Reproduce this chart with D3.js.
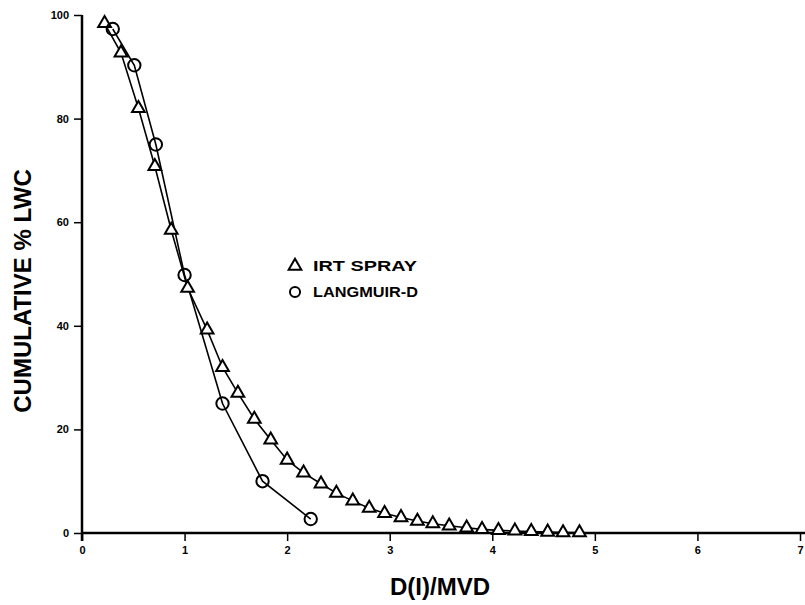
<!DOCTYPE html>
<html>
<head>
<meta charset="utf-8">
<script src="https://cdn.jsdelivr.net/npm/d3@7"></script>
<style>
  html, body { margin: 0; padding: 0; background: #fff; }
  svg { display: block; }
  text { font-family: "Liberation Sans", Arial, Helvetica, sans-serif; font-weight: bold; fill: #000; }
</style>
</head>
<body>
<svg id="chart" width="805" height="605"></svg>
<script>
// ---- data ----
const irtX = [0.22, 0.38, 0.55, 0.71, 0.87, 1.03, 1.22, 1.37, 1.52, 1.68, 1.84, 2.00, 2.16, 2.33, 2.48, 2.64, 2.80, 2.95, 3.11, 3.27, 3.42, 3.58, 3.75, 3.90, 4.06, 4.22, 4.38, 4.54, 4.69, 4.85];
const irtY = [98.4, 92.7, 82.0, 70.8, 58.5, 47.3, 39.2, 32.0, 27.0, 22.0, 18.0, 14.1, 11.6, 9.5, 7.7, 6.2, 4.8, 3.8, 3.0, 2.3, 1.8, 1.4, 1.0, 0.7, 0.5, 0.4, 0.3, 0.2, 0.1, 0.1];
const langX = [0.30, 0.51, 0.72, 1.00, 1.37, 1.76, 2.23];
const langY = [97.3, 90.3, 75.0, 49.8, 25.0, 10.0, 2.7];
const xTicks = [0, 1, 2, 3, 4, 5, 6, 7];
const yTicks = [0, 20, 40, 60, 80, 100];
const seriesNames = ["IRT SPRAY", "LANGMUIR-D"];
const xTitle = "D(I)/MVD";
const yTitle = "CUMULATIVE % LWC";

// ---- layout ----
const svg = d3.select("#chart");
const x = d3.scaleLinear().domain([0, 7]).range([82, 800]);
const y = d3.scaleLinear().domain([0, 100]).range([533, 15]);

// axes
const xAxis = d3.axisBottom(x).tickValues(xTicks).tickSize(8).tickPadding(5).tickFormat(d3.format("d"));
const gx = svg.append("g").attr("transform", `translate(0,${y(0)})`).call(xAxis);
gx.select(".domain").attr("d", `M${x(0)},0H805`).attr("stroke", "#000").attr("stroke-width", 2.5);
gx.selectAll(".tick line").attr("stroke", "#000").attr("stroke-width", 1.5);
gx.selectAll(".tick text").attr("font-size", 11).attr("font-family", "Liberation Sans, Arial, sans-serif").attr("font-weight", "bold");

const yAxis = d3.axisLeft(y).tickValues(yTicks).tickSize(8).tickPadding(5).tickFormat(d3.format("d"));
const gy = svg.append("g").attr("transform", `translate(${x(0)},0)`).call(yAxis);
gy.select(".domain").attr("d", `M0,${y(0) + 8}V${y(100)}`).attr("stroke", "#000").attr("stroke-width", 2.5);
gy.selectAll(".tick line").attr("stroke", "#000").attr("stroke-width", 1.5);
gy.selectAll(".tick text").attr("font-size", 11).attr("font-family", "Liberation Sans, Arial, sans-serif").attr("font-weight", "bold");

// titles
svg.append("text")
  .attr("transform", `translate(31,${291}) rotate(-90)`)
  .attr("text-anchor", "middle")
  .attr("font-size", 24)
  .text(yTitle);
svg.append("text")
  .attr("x", 440).attr("y", 595)
  .attr("text-anchor", "middle")
  .attr("font-size", 24)
  .text(xTitle);

// lines
const irt = irtX.map((v, i) => [v, irtY[i]]);
const lang = langX.map((v, i) => [v, langY[i]]);
const line = d3.line().x(d => x(d[0])).y(d => y(d[1]));
svg.append("path").datum(irt).attr("d", line).attr("fill", "none").attr("stroke", "#000").attr("stroke-width", 1.6);
svg.append("path").datum(lang).attr("d", line).attr("fill", "none").attr("stroke", "#000").attr("stroke-width", 1.6);

const tri = d3.symbol().type(d3.symbolTriangle).size(70);
const circ = d3.symbol().type(d3.symbolCircle).size(120);

svg.append("g").selectAll("path").data(irt).join("path")
  .attr("d", tri)
  .attr("transform", d => `translate(${x(d[0])},${y(d[1])})`)
  .attr("fill", "#fff").attr("stroke", "#000").attr("stroke-width", 2);
svg.append("g").selectAll("path").data(lang).join("path")
  .attr("d", circ)
  .attr("transform", d => `translate(${x(d[0])},${y(d[1])})`)
  .attr("fill", "none").attr("stroke", "#000").attr("stroke-width", 2);

// legend
const leg = svg.append("g");
leg.append("path").attr("d", tri).attr("transform", "translate(295,266)")
  .attr("fill", "#fff").attr("stroke", "#000").attr("stroke-width", 2);
leg.append("text").attr("x", 313).attr("y", 271).attr("font-size", 15)
  .attr("textLength", 104).attr("lengthAdjust", "spacingAndGlyphs").text(seriesNames[0]);
leg.append("path").attr("d", d3.symbol().type(d3.symbolCircle).size(80)).attr("transform", "translate(295,292)")
  .attr("fill", "none").attr("stroke", "#000").attr("stroke-width", 2);
leg.append("text").attr("x", 313).attr("y", 297).attr("font-size", 14)
  .attr("textLength", 105).attr("lengthAdjust", "spacingAndGlyphs").text(seriesNames[1]);
</script>
</body>
</html>
